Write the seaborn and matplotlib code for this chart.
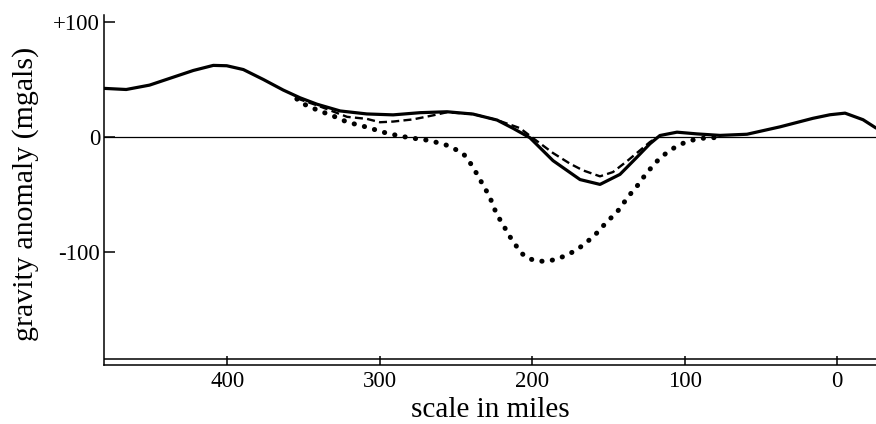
import matplotlib
matplotlib.use("Agg")
import matplotlib.pyplot as plt
import seaborn as sns

# Observed gravity anomaly profile (miles along profile, mgal)
observed_miles = [481.2, 466.3, 451.0, 435.4, 422.3, 409.2, 400.4, 389.5, 376.4, 363.3,
                  352.3, 341.1, 326.0, 308.5, 291.3, 273.6, 255.9, 238.9, 223.1, 212.7,
                  201.6, 186.4, 168.7, 155.6, 142.5, 131.3, 122.8, 116.3, 105.1, 92.0,
                  76.9, 59.2, 37.6, 16.0, 4.8, -5.1, -16.9, -25.4]
observed_mgal = [42.2, 41.2, 45.0, 51.9, 57.7, 62.1, 61.8, 58.5, 49.9, 40.7,
                 34.0, 28.4, 22.6, 20.0, 19.2, 21.1, 21.9, 19.9, 14.7, 7.6,
                 -0.6, -20.5, -36.9, -41.1, -32.4, -17.4, -5.8, 1.3, 4.2, 2.7,
                 1.4, 2.4, 8.8, 16.2, 19.3, 20.7, 15.0, 7.8]

# First computed profile (dashed)
dashed_miles = [354.4, 341.2, 321.5, 308.4, 299.9, 291.2, 278.1, 265.0, 255.9, 238.9,
                223.1, 208.1, 199.5, 186.4, 175.3, 166.8, 155.6, 147.1, 137.3, 129.4,
                122.8, 118.2]
dashed_mgal = [33.5, 27.5, 17.5, 15.7, 12.8, 13.4, 15.3, 18.8, 21.5, 19.9,
               14.7, 7.7, -1.0, -13.9, -23.1, -28.9, -34.1, -30.4, -20.3, -11.6,
               -4.3, -0.5]

# Second computed profile (dotted)
dotted_miles = [354.4, 352.3, 341.2, 330.7, 321.5, 308.4, 297.9, 286.8, 273.6, 268.3,
                262.4, 255.9, 250.7, 245.4, 241.5, 238.9, 235.6, 232.7, 229.4, 226.8,
                224.8, 222.2, 218.9, 216.3, 213.6, 210.3, 207.1, 203.2, 197.3, 192.3,
                185.1, 179.2, 173.3, 167.4, 162.1, 157.5, 153.6, 149.0, 144.4, 141.1,
                137.8, 134.6, 130.6, 127.3, 124.1, 120.2, 116.3, 111.7, 107.1, 101.8,
                97.2, 92.0, 86.8, 81.5, 75.0]
dotted_mgal = [33.0, 30.0, 23.5, 18.3, 13.0, 8.5, 4.2, 0.8, -2.0, -2.8,
               -4.8, -7.2, -10.5, -14.3, -20.6, -26.6, -33.5, -40.8, -48.3, -55.5,
               -62.4, -69.6, -76.2, -83.5, -88.4, -94.9, -100.7, -105.0, -107.4, -107.8,
               -106.4, -103.4, -99.6, -94.5, -88.7, -83.0, -77.2, -70.9, -65.0, -59.2,
               -52.9, -47.7, -41.4, -35.3, -29.8, -24.0, -18.2, -13.6, -9.5, -5.8,
               -3.5, -1.7, -0.9, -0.6, -0.3]

x_ticks = [400, 300, 200, 100, 0]
x_tick_labels = ["400", "300", "200", "100", "0"]
y_ticks = [-100, 0, 100]
y_tick_labels = ["-100", "0", "+100"]

sns.set_theme(style="white")
plt.rcParams["font.family"] = ["Liberation Serif", "DejaVu Serif"]

W, H = 876, 424
fig = plt.figure(figsize=(W / 100, H / 100), dpi=100)
left_px, right_px, top_px, bottom_px = 103.5, 876, 15, 365
ax = fig.add_axes([left_px / W, (H - bottom_px) / H,
                   (right_px - left_px) / W, (bottom_px - top_px) / H])

sns.lineplot(x=observed_miles, y=observed_mgal, ax=ax, color="black",
             lw=2.3, sort=False, estimator=None)
sns.lineplot(x=dashed_miles, y=dashed_mgal, ax=ax, color="black",
             lw=1.7, sort=False, estimator=None)
sns.lineplot(x=dotted_miles, y=dotted_mgal, ax=ax, color="black",
             lw=3.6, sort=False, estimator=None)

solid, dashed, dotted = ax.lines[-3:]
solid.set_solid_capstyle("round")
solid.set_solid_joinstyle("round")
dashed.set_linestyle((0, (3.4, 1.8)))
dashed.set_dash_capstyle("butt")
dotted.set_linestyle((0, (0.05, 2.05)))
dotted.set_dash_capstyle("round")

# zero reference and the double base line
ax.axhline(0, color="black", lw=0.9, zorder=1)
ax.axhline(-192.5, color="black", lw=1.1, zorder=1)

ax.set_xlim(481.2, -25.4)
ax.set_ylim(-197.7, 105.8)

ax.set_xticks(x_ticks)
ax.set_xticklabels(x_tick_labels)
ax.set_yticks(y_ticks)
ax.set_yticklabels(y_tick_labels)

for side in ("top", "right"):
    ax.spines[side].set_visible(False)
for side in ("left", "bottom"):
    ax.spines[side].set_color("black")
    ax.spines[side].set_linewidth(1.1)

ax.tick_params(axis="x", direction="in", length=6.5, width=1.1, color="black",
               labelsize=16.5, pad=4, labelcolor="black", bottom=True)
ax.tick_params(axis="y", direction="in", length=8, width=1.1, color="black",
               labelsize=16.5, pad=2.5, labelcolor="black", left=True)

ax.set_xlabel("scale in miles", fontsize=21, color="black")
ax.xaxis.set_label_coords((490 - left_px) / (right_px - left_px),
                          -(417 - bottom_px) / (bottom_px - top_px))
ax.xaxis.label.set_verticalalignment("baseline")

ax.set_ylabel("gravity anomaly (mgals)", fontsize=21.5, color="black")
ax.yaxis.set_label_coords((33 - left_px) / (right_px - left_px), 0.49)
ax.yaxis.label.set_verticalalignment("baseline")

ax.grid(False)
fig.savefig("out.png", dpi=100, facecolor="white")
